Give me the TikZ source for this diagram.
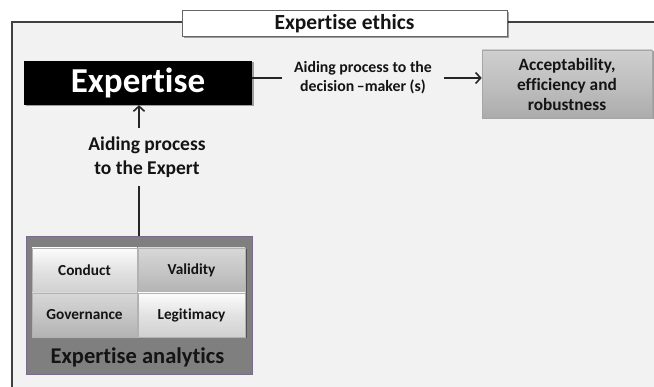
\documentclass[tikz,border=0pt]{standalone}
\usepackage{fontspec}
\setmainfont{Carlito}[RawFeature={-liga;-clig;-dlig}]
\usetikzlibrary{shadows,arrows.meta,calc}
\definecolor{framefill}{HTML}{F2F2F2}
\definecolor{framec}{HTML}{404040}
\definecolor{linec}{HTML}{262626}
\definecolor{accfill}{HTML}{BFBFBF}
\definecolor{cellA}{HTML}{E2E2E2}
\definecolor{cellB}{HTML}{C6C6C6}
\definecolor{anfill}{HTML}{7F7F7F}
\definecolor{anborder}{HTML}{8064A2}
\definecolor{textc}{HTML}{141414}
\tikzset{
  conn/.style={draw=linec, line width=2pt},
  arr/.style={conn, -{Straight Barb[length=5pt,width=11pt,line width=1.6pt]}},
  shad/.style={drop shadow={shadow xshift=1.5pt, shadow yshift=-1.5pt, opacity=0.35, fill=black}},
  titlebox/.style={draw=gray!80!black, line width=1pt, fill=white, shad, inner sep=0pt,
    font=\fontsize{21.5}{24}\selectfont\bfseries, text=textc},
  exbox/.style={fill=black, shad, inner sep=0pt, text=white,
    font=\fontsize{35}{40}\selectfont\bfseries},
  accbox/.style={draw=gray!70, line width=0.6pt, top color=accfill!75!white, bottom color=accfill!90!black,
    middle color=accfill, shad, inner sep=0pt, align=center, text=textc,
    font=\fontsize{17.3}{20}\selectfont\bfseries},
  lab/.style={align=center, text=textc, inner sep=0pt},
  cell/.style={draw=gray!60, line width=0.6pt, inner sep=0pt, text=textc, shad,
    font=\fontsize{15.3}{18}\selectfont\bfseries},
  cellL/.style={cell, top color=white!90!cellA, bottom color=cellA!92!black, middle color=cellA},
  cellD/.style={cell, top color=cellB!70!white, bottom color=cellB!90!black, middle color=cellB},
}
\begin{document}
\begin{tikzpicture}[x=1pt,y=-1pt]
\useasboundingbox (0,0) rectangle (654,387);
\clip (0,0) rectangle (654,387);
\fill[white] (0,0) rectangle (654,387);
% outer frame
\draw[framec, line width=2pt, fill=framefill] (12,22) rectangle (720,420);
% title
\node[titlebox, minimum width=325pt, minimum height=26pt] (title) at (344.5,23.5) {Expertise ethics};
% expertise
\node[exbox, minimum width=228pt, minimum height=44pt] (ex) at (138,83) {Expertise};
% acceptability
\node[accbox, minimum width=170pt, minimum height=68pt] (acc) at (567,84)
  {Acceptability,\\efficiency and\\robustness};
% horizontal label
\node[lab, font=\fontsize{15.8}{19}\selectfont\bfseries, minimum width=162pt] (hlab) at (363,78)
  {Aiding process to the\\decision\,\textendash maker (s)};
\draw[conn] (ex.east |- hlab.west) -- (hlab.west);
\draw[arr] (hlab.east) -- (hlab.east -| acc.west);
% analytics box
\node[draw=anborder, line width=0.8pt, fill=anfill, minimum width=226pt, minimum height=138pt, inner sep=0pt] (an) at (139,305) {};
\node[cellL, minimum width=105pt, minimum height=45pt] (conduct) at (84.5,270.5) {Conduct};
\node[cellD, minimum width=107pt, minimum height=45pt] (validity) at (191.5,270.5) {Validity};
\node[cellD, minimum width=105pt, minimum height=44pt] (governance) at (84.5,315) {Governance};
\node[cellL, minimum width=107pt, minimum height=44pt] (legitimacy) at (191.5,315) {Legitimacy};
\node[lab, font=\fontsize{22.5}{26}\selectfont\bfseries] (anlab) at (137.5,357) {Expertise analytics};
% vertical label
\node[lab, font=\fontsize{19.5}{24}\selectfont\bfseries, minimum height=58pt] (vlab) at (147,157)
  {Aiding process\\to the Expert};
\draw[conn] (an.north) -- (an.north |- vlab.south);
\draw[arr] (an.north |- vlab.north) -- (an.north |- ex.south);
\end{tikzpicture}
\end{document}
